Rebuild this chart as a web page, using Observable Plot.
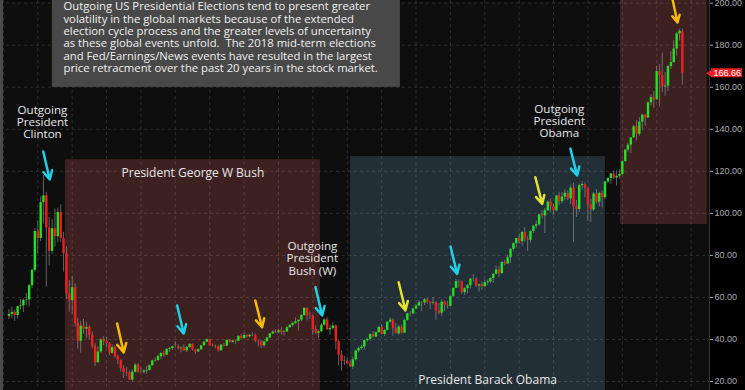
<!DOCTYPE html>
<html><head><meta charset="utf-8">
<script src="https://cdn.jsdelivr.net/npm/d3@7"></script>
<script src="https://cdn.jsdelivr.net/npm/@observablehq/plot@0.6"></script>
<style>
html,body{margin:0;padding:0;background:#000;}
#chart{width:745px;height:390px;overflow:hidden;position:relative;}
</style></head><body><div id="chart"></div>
<script>
// Monthly candles, Mar 1999 .. Oct 2018
const firstMonth = "1999-03-01";
const open = [
51.0,51.9,52.9,51.4,55.6,56.0,58.6,58.8,65.6,72.9,
91.4,88.0,105.1,108.3,93.0,81.9,92.7,88.9,100.4,88.0,80.8,61.7,
58.4,64.6,47.6,39.2,46.3,44.9,45.7,42.0,36.6,29.0,34.0,39.8,
38.9,38.0,33.4,36.1,31.6,30.0,26.1,24.3,24.0,20.7,24.4,27.8,
24.4,24.4,25.0,25.3,27.5,29.8,30.0,31.8,33.4,32.5,35.3,35.7,
36.5,36.5,35.6,35.9,34.6,36.2,37.7,35.1,34.1,35.1,37.0,38.7,
39.9,37.0,36.8,36.6,34.6,37.3,36.8,39.5,38.6,39.3,39.1,41.5,
40.4,41.9,41.3,42.0,41.9,39.1,38.8,37.0,38.9,40.7,42.6,43.6,
43.2,44.1,43.3,43.6,45.6,46.7,47.6,48.4,49.2,51.4,54.8,51.2,
51.2,44.6,42.9,43.7,46.8,49.3,44.6,45.2,46.4,38.9,32.5,29.6,
29.7,28.3,27.0,30.3,34.5,35.7,36.4,39.5,40.0,42.3,41.1,43.2,
45.7,42.4,44.3,48.2,49.2,45.1,42.7,45.9,43.0,49.1,52.2,52.1,
54.5,55.9,57.5,57.4,58.9,57.8,57.2,57.5,53.6,52.5,57.7,56.3,
55.8,60.5,64.3,67.5,67.4,62.3,64.2,65.6,68.7,68.5,65.4,66.0,
65.1,67.0,67.4,69.0,71.0,73.1,71.3,76.6,75.9,78.9,82.9,85.6,
88.0,86.5,90.9,87.7,87.2,91.4,93.9,94.6,99.3,98.8,101.2,105.3,
103.3,101.2,108.3,105.6,107.7,109.5,106.9,112.0,103.1,101.8,113.2,113.7,
111.9,104.1,101.6,109.2,105.3,109.5,107.5,114.9,116.6,118.7,116.8,117.6,
118.5,124.6,130.1,132.4,135.9,141.2,137.6,143.4,146.6,145.4,152.6,155.1,
154.0,167.4,165.6,160.1,160.6,169.9,171.7,178.2,185.4,186.6];
const high = [
54.2,55.3,54.0,55.8,59.0,59.3,61.8,66.2,73.5,92.8,
96.5,107.9,118.0,110.0,98.0,97.0,102.0,102.5,104.0,91.0,84.0,68.0,
70.0,66.5,50.0,48.5,49.5,48.0,46.5,43.5,38.0,36.5,40.5,41.5,
41.0,38.5,37.5,37.0,32.5,30.5,27.5,26.5,25.0,25.5,28.5,28.5,
26.5,25.6,27.2,28.0,30.2,31.2,32.5,33.6,34.5,35.5,36.2,36.9,
39.0,37.5,36.4,37.5,36.6,37.9,37.8,35.3,35.6,37.2,39.0,40.3,
40.0,37.8,37.4,37.0,37.6,38.0,39.8,39.9,39.7,39.6,41.8,42.3,
43.0,42.2,42.4,43.2,42.5,39.6,39.5,39.2,41.0,42.9,44.2,44.6,
44.9,45.8,44.2,46.0,47.2,48.2,50.2,48.9,51.8,55.1,55.0,53.0,
51.5,46.4,44.5,47.6,50.0,50.3,46.8,48.0,47.0,39.6,34.5,32.0,
31.4,30.2,31.5,34.9,36.3,37.2,39.7,40.7,42.7,43.8,43.5,46.2,
47.1,44.6,48.3,50.3,49.8,47.6,46.6,46.8,49.4,52.5,53.3,54.8,
56.8,58.4,58.0,59.4,59.5,58.0,59.9,58.0,57.1,58.9,58.3,58.2,
60.6,64.5,68.6,68.2,67.8,64.5,66.2,69.1,70.8,69.4,66.3,67.3,
68.3,68.3,69.3,71.3,75.0,74.8,77.2,77.6,80.0,83.2,85.9,88.3,
90.1,91.4,93.2,88.9,91.6,94.0,96.3,99.6,101.4,102.3,106.0,107.0,
104.5,108.6,110.0,110.0,111.2,110.8,113.5,114.3,106.2,114.0,115.0,114.5,
112.0,106.7,109.8,111.3,110.0,110.6,115.2,117.0,119.1,120.0,120.2,120.8,
125.0,130.4,133.3,136.0,141.9,144.1,145.5,147.3,147.0,152.9,156.5,158.0,
170.0,170.8,176.2,167.0,170.2,177.0,182.2,186.0,187.5,187.4];
const low = [
49.5,49.9,48.6,49.6,54.0,52.8,56.2,55.4,64.2,72.0,
80.7,86.5,95.0,65.0,75.0,80.5,84.0,86.0,86.2,72.0,59.0,53.0,
52.0,46.0,35.5,33.5,42.5,40.5,39.5,35.5,27.1,28.5,33.5,37.0,
36.0,32.5,33.0,31.0,28.0,24.5,21.5,22.5,20.5,19.8,24.0,23.8,
24.0,23.6,23.5,25.0,27.3,29.2,29.5,30.5,31.5,32.4,33.8,34.7,
36.0,35.0,33.6,34.3,33.8,35.7,34.3,32.8,33.8,34.8,36.8,38.5,
36.9,36.4,35.6,34.0,34.5,36.5,36.7,38.3,38.3,37.5,39.0,40.3,
40.3,40.6,40.8,41.3,38.5,36.5,35.6,36.0,38.5,40.4,42.5,42.8,
42.6,42.0,41.6,43.3,45.3,45.9,47.3,44.0,48.4,50.9,48.8,49.5,
41.9,42.3,40.7,43.2,46.3,44.5,42.0,44.5,35.0,27.5,25.0,27.6,
27.9,26.7,25.6,29.8,33.6,34.7,35.0,38.6,39.1,40.7,41.0,43.1,
42.1,41.4,44.2,47.8,41.5,42.6,41.9,42.6,42.8,48.6,50.7,52.0,
54.3,55.7,53.4,56.2,56.8,54.3,56.3,49.2,51.8,50.8,53.2,54.5,
55.6,60.0,64.2,64.5,61.4,60.8,61.7,64.0,67.3,64.6,62.5,63.4,
64.8,65.7,66.6,66.7,70.9,69.4,71.3,75.0,75.8,76.0,81.9,83.5,
85.4,84.4,86.3,81.8,85.9,90.4,92.6,93.9,97.3,90.4,100.9,100.2,
98.8,100.8,103.6,104.5,106.0,106.1,104.2,86.0,98.0,100.5,111.0,107.4,
96.1,95.6,100.9,104.5,103.0,102.7,106.5,114.1,113.8,116.0,113.0,116.3,
118.2,124.5,128.9,128.4,135.8,134.6,136.6,139.5,141.4,145.2,151.1,150.0,
154.0,150.6,157.5,155.7,158.0,168.6,171.5,174.8,182.0,160.9];
const close = [
51.9,52.9,51.4,55.6,56.0,58.6,58.8,65.6,72.9,91.4,
88.0,105.1,108.3,93.0,81.9,92.7,88.9,100.4,88.0,80.8,61.7,58.4,
64.6,47.6,39.2,46.3,44.9,45.7,42.0,36.6,29.0,34.0,39.8,38.9,
38.0,33.4,36.1,31.6,30.0,26.1,24.3,24.0,20.7,24.4,27.8,24.4,
24.4,25.0,25.3,27.5,29.8,30.0,31.8,33.4,32.5,35.3,35.7,36.5,
36.5,35.6,35.9,34.6,36.2,37.7,35.1,34.1,35.1,37.0,38.7,39.9,
37.0,36.8,36.6,34.6,37.3,36.8,39.5,38.6,39.3,39.1,41.5,40.4,
41.9,41.3,42.0,41.9,39.1,38.8,37.0,38.9,40.7,42.6,43.6,43.2,
44.1,43.3,43.6,45.6,46.7,47.6,48.4,49.2,51.4,54.8,51.2,51.2,
44.6,42.9,43.7,46.8,49.3,44.6,45.2,46.4,38.9,32.5,29.6,29.7,
28.3,27.0,30.3,34.5,35.7,36.4,39.5,40.0,42.3,41.1,43.2,45.7,
42.4,44.3,48.2,49.2,45.1,42.7,45.9,43.0,49.1,52.2,52.1,54.5,
55.9,57.5,57.4,58.9,57.8,57.2,57.5,53.6,52.5,57.7,56.3,55.8,
60.5,64.3,67.5,67.4,62.3,64.2,65.6,68.7,68.5,65.4,66.0,65.1,
67.0,67.4,69.0,71.0,73.1,71.3,76.6,75.9,78.9,82.9,85.6,88.0,
86.5,90.9,87.7,87.2,91.4,93.9,94.6,99.3,98.8,101.2,105.3,103.3,
101.2,108.3,105.6,107.7,109.5,106.9,112.0,103.1,101.8,113.2,113.7,111.9,
104.1,101.6,109.2,105.3,109.5,107.5,114.9,116.6,118.7,116.8,117.6,118.5,
124.6,130.1,132.4,135.9,141.2,137.6,143.4,146.6,145.4,152.6,155.1,154.0,
167.4,165.6,160.1,160.6,169.9,171.7,178.2,185.4,186.6,166.66];

const priceTicks = [20,40,60,80,100,120,140,160,180,200];

const presidencies = [
  {name:"Bush",  from:"2000-10-21", to:"2008-03-21", bottom:10,   top:125.5},
  {name:"Obama", from:"2009-02-05", to:"2016-07-05", bottom:10,   top:127.0},
  {name:"Trump", from:"2016-12-12", to:"2019-06-23", bottom:94.7, top:210}
];
const regionLabels = [
  {text:"President George W Bush", date:"2004-07-06", price:118.9},
  {text:"President Barack Obama",  date:"2013-01-30", price:20.5}
];
const outgoingLabels = [
  {text:"Outgoing\nPresident\nClinton",  date:"2000-02-20", price:143.4},
  {text:"Outgoing\nPresident\nBush (W)", date:"2007-12-27", price:78.5},
  {text:"Outgoing\nPresident\nObama",    date:"2015-03-03", price:143.9}
];
// arrows: presidential election years and mid-term election years
const presidentialArrows = [
  {year:2000, from:"2000-02-28", p1:129.4, to:"2000-05-07", p2:116.1},
  {year:2004, from:"2004-01-21", p1:56.2,  to:"2004-03-30", p2:42.8},
  {year:2008, from:"2008-01-29", p1:64.9,  to:"2008-04-09", p2:51.4},
  {year:2012, from:"2012-01-03", p1:84.2,  to:"2012-03-13", p2:71.2},
  {year:2016, from:"2015-06-29", p1:130.8, to:"2015-09-09", p2:118.0}
];
const midtermArrows = [
  {year:2002, from:"2002-04-23", p1:47.6,  to:"2002-07-02", p2:33.8},
  {year:2006, from:"2006-04-30", p1:58.5,  to:"2006-07-11", p2:45.8},
  {year:2010, from:"2010-07-01", p1:67.2,  to:"2010-09-11", p2:53.8},
  {year:2014, from:"2014-06-22", p1:117.2, to:"2014-09-03", p2:104.5},
  {year:2018, from:"2018-06-17", p1:202.0, to:"2018-08-10", p2:190.8}
];
const noteLines = [
  "Outgoing US Presidential Elections tend to present greater",
  "volatility in the global markets because of the extended",
  "election cycle process and the greater levels of uncertainty",
  "as these global events unfold.  The 2018 mid-term elections",
  "and Fed/Earnings/News events have resulted in the largest",
  "price retracment over the past 20 years in the stock market."
];
const noteBox = {from:"2000-06-04", to:"2010-07-19", bottom:159.9, top:210, textDate:"2000-09-30", textPrice:200.9};

// ---------- build ----------
const dt = s => new Date(s + "T00:00:00Z");
const start = dt(firstMonth);
const months = d3.utcMonth.range(start, d3.utcMonth.offset(start, close.length));
const candles = months.map((date, i) => ({date, open:open[i], high:high[i], low:low[i], close:close[i]}));
const xDomain = [dt("1998-12-01"), dt("2019-07-16")];
const yDomain = [15.72, 201.26];
const years = d3.utcYear.range(dt("1999-01-01"), dt("2019-02-01"));
const lastClose = close[close.length - 1];

const regionFill = {Bush:"#3d2120", Obama:"#232f36", Trump:"#3d2120"};
const midtermColor = y => (y === 2010 || y === 2014) ? "#e2e232" : "#f4b90c";
const labelFont = "'Open Sans', 'Noto Sans', sans-serif";

const chart = Plot.plot({
  width:745, height:390,
  marginLeft:0, marginRight:36, marginTop:0, marginBottom:0,
  x:{type:"utc", domain:xDomain, axis:null},
  y:{domain:yDomain, axis:"right", ticks:priceTicks, tickFormat:d => d.toFixed(2),
     tickSize:3, tickPadding:2, label:null},
  style:{background:"#000", color:"#aaaaaa", fontSize:"9px",
         fontFamily:"'Liberation Sans', Arial, sans-serif", overflow:"hidden"},
  marks:[
    Plot.frame({fill:"#0e0e0e", stroke:"none"}),
    Plot.rect(presidencies, {x1:d => dt(d.from), x2:d => dt(d.to), y1:"bottom", y2:"top",
      fill:d => regionFill[d.name], clip:true}),
    Plot.ruleY(priceTicks, {stroke:"#fff", strokeOpacity:0.13, strokeDasharray:"3,3"}),
    Plot.ruleX(years, {stroke:"#fff", strokeOpacity:0.13, strokeDasharray:"3,3"}),
    Plot.ruleX(candles, {x:"date", y1:"low", y2:"high", stroke:"#9a9a9a", strokeOpacity:0.6, strokeWidth:1}),
    Plot.ruleX(candles, {x:"date", y1:"open", y2:"close",
      stroke:d => d.close >= d.open ? "#22e022" : "#f01e1e", strokeWidth:2.4}),
    Plot.rect([noteBox], {x1:d => dt(d.from), x2:d => dt(d.to), y1:"bottom", y2:"top",
      fill:"#4b4b4b", fillOpacity:0.96, clip:true}),
    Plot.text([noteBox], {x:d => dt(d.textDate), y:"textPrice", text:() => noteLines.join("\n"),
      textAnchor:"start", lineAnchor:"top", lineHeight:1.1, fontSize:11.3, fill:"#f0f0f0",
      fontFamily:labelFont}),
    Plot.text(regionLabels, {x:d => dt(d.date), y:"price", text:"text", fontSize:12,
      fill:"#e6e6e6", fontFamily:labelFont}),
    Plot.text(outgoingLabels, {x:d => dt(d.date), y:"price", text:"text", fontSize:11.6,
      lineHeight:1.06, fill:"#e6e6e6", fontFamily:labelFont}),
    Plot.arrow(presidentialArrows, {x1:d => dt(d.from), y1:"p1", x2:d => dt(d.to), y2:"p2",
      stroke:"#1fd0e6", strokeWidth:2.5, headLength:9, headAngle:55}),
    Plot.arrow(midtermArrows, {x1:d => dt(d.from), y1:"p1", x2:d => dt(d.to), y2:"p2",
      stroke:d => midtermColor(d.year), strokeWidth:2.5, headLength:9, headAngle:55}),
    Plot.ruleX([xDomain[0]], {stroke:"#4a4a4a", strokeWidth:5}),
    Plot.ruleX([xDomain[1]], {stroke:"#333", strokeWidth:1}),
    Plot.rect([lastClose], {x1:() => xDomain[1], x2:() => xDomain[1], y1:d => d, y2:d => d,
      insetLeft:2, insetRight:-33, insetTop:-4.5, insetBottom:-4.5, fill:"#e81e25"}),
    Plot.dot([lastClose], {x:() => xDomain[1], y:d => d, symbol:"triangle", r:3, rotate:-90,
      fill:"#e81e25", dx:1}),
    Plot.text([lastClose], {x:() => xDomain[1], y:d => d, text:d => d.toFixed(2), dx:4,
      textAnchor:"start", fill:"#fff", fontSize:9})
  ]
});
document.getElementById("chart").appendChild(chart);
</script></body></html>
